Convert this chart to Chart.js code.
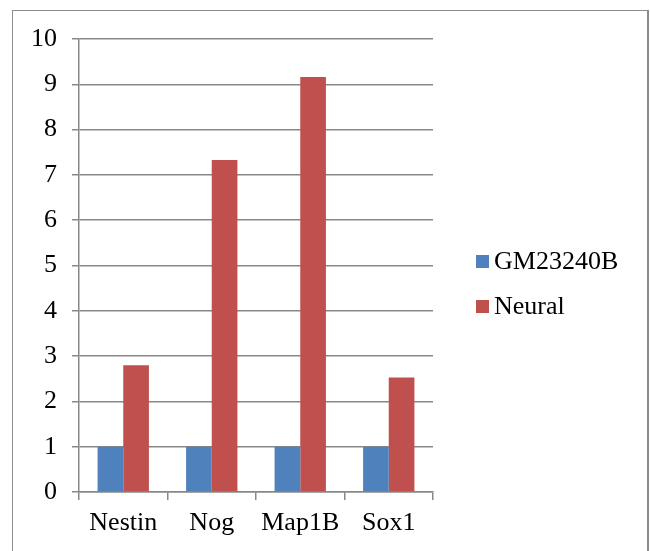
<!DOCTYPE html>
<html>
<head>
<meta charset="utf-8">
<script src="https://cdn.jsdelivr.net/npm/chart.js@4.4.0/dist/chart.umd.min.js"></script>
<style>
  html, body { margin: 0; padding: 0; background: #fff; width: 650px; height: 551px; overflow: hidden; }
  #wrap { position: relative; width: 650px; height: 551px; }
  #frame { position: absolute; left: 12px; top: 10px; width: 637px; height: 560px; border: 1px solid #8c8c8c; border-right: 2px solid #8c8c8c; box-sizing: border-box; }
  canvas { position: absolute; left: 0; top: 0; }
  .lg { position: absolute; font-family: "Liberation Serif", "Times New Roman", serif; font-size: 26px; line-height: 26px; color: #000; white-space: nowrap; }
  .sw { position: absolute; width: 13px; height: 13px; }
</style>
</head>
<body>
<div id="wrap">
  <div id="frame"></div>
  <canvas id="c" width="650" height="551"></canvas>
  <div id="legend"></div>
</div>
<script>
const categories = ["Nestin", "Nog", "Map1B", "Sox1"];
const seriesNames = ["GM23240B", "Neural"];
const gm23240bValues = [1, 1, 1, 1];
const neuralValues = [2.8, 7.33, 9.16, 2.53];
const yTicks = [0, 1, 2, 3, 4, 5, 6, 7, 8, 9, 10];
const seriesColors = ["#4F81BD", "#C0504D"];

const FONT = { family: '"Liberation Serif", "Times New Roman", serif', size: 26 };
const GRID = "#888888";

// HTML legend (real text)
const legend = document.getElementById("legend");
const legendTops = [248, 293];
seriesNames.forEach((name, i) => {
  const sw = document.createElement("div");
  sw.className = "sw";
  sw.style.left = "476px";
  sw.style.top = (legendTops[i] + 7) + "px";
  sw.style.background = seriesColors[i];
  legend.appendChild(sw);
  const t = document.createElement("div");
  t.className = "lg";
  t.style.left = "494px";
  t.style.top = legendTops[i] + "px";
  t.textContent = name;
  legend.appendChild(t);
});

new Chart(document.getElementById("c"), {
  type: "bar",
  data: {
    labels: categories,
    datasets: [
      { label: seriesNames[0], data: gm23240bValues, backgroundColor: seriesColors[0], borderWidth: 0 },
      { label: seriesNames[1], data: neuralValues, backgroundColor: seriesColors[1], borderWidth: 0 }
    ]
  },
  options: {
    responsive: false,
    animation: false,
    devicePixelRatio: 1,
    layout: { padding: { left: 0, top: 39, right: 217, bottom: 0 } },
    plugins: { legend: { display: false }, tooltip: { enabled: false } },
    datasets: { bar: { categoryPercentage: 0.58, barPercentage: 1.0 } },
    scales: {
      x: {
        offset: true,
        grid: { display: true, drawOnChartArea: false, drawTicks: true, tickLength: 8, color: GRID, lineWidth: 1.5, offset: true },
        border: { display: true, color: GRID, width: 1.5 },
        ticks: { color: "#000", font: FONT, padding: 8, maxRotation: 0 },
        afterFit: (s) => { s.height = 59; }
      },
      y: {
        min: 0, max: 10,
        afterBuildTicks: (s) => { s.ticks = yTicks.map(v => ({ value: v })); },
        grid: { color: GRID, lineWidth: 1.5, tickLength: 7, drawTicks: true },
        border: { display: true, color: GRID, width: 1.5 },
        ticks: { color: "#000", font: FONT, padding: 15, stepSize: 1 },
        afterFit: (s) => { s.width = 79; }
      }
    }
  }
});
</script>
</body>
</html>
